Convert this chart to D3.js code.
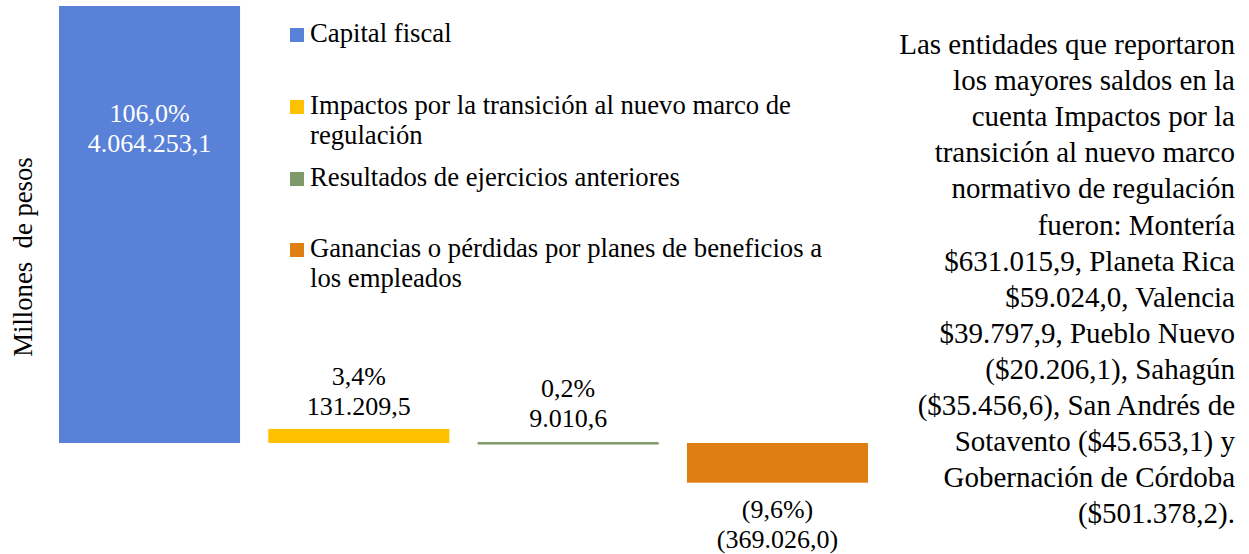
<!DOCTYPE html>
<html>
<head>
<meta charset="utf-8">
<title>Patrimonio</title>
<script src="https://d3js.org/d3.v7.min.js"></script>
<style>
  body { margin: 0; background: #fff; }
  text { font-family: "Liberation Serif", "Times New Roman", serif; }
</style>
</head>
<body>
<div id="chart"></div>
<script>
var categories = ["Capital fiscal", "Impactos por la transición al nuevo marco de regulación", "Resultados de ejercicios anteriores", "Ganancias o pérdidas por planes de beneficios a los empleados"];
var values = [4064253.1, 131209.5, 9010.6, -369026.0];
var percentLabels = ["106,0%", "3,4%", "0,2%", "(9,6%)"];
var valueLabels = ["4.064.253,1", "131.209,5", "9.010,6", "(369.026,0)"];
var colors = ["#5981d7", "#ffc000", "#7f9a6a", "#df7f13"];
var legendLines = [["Capital fiscal"], ["Impactos por la transición al nuevo marco de", "regulación"], ["Resultados de ejercicios anteriores"], ["Ganancias o pérdidas por planes de beneficios a", "los empleados"]];
var noteLines = ["Las entidades que reportaron", "los mayores saldos en la", "cuenta Impactos por la", "transición al nuevo marco", "normativo de regulación", "fueron: Montería", "$631.015,9, Planeta Rica", "$59.024,0, Valencia", "$39.797,9, Pueblo Nuevo", "($20.206,1), Sahagún", "($35.456,6), San Andrés de", "Sotavento ($45.653,1) y", "Gobernación de Córdoba", "($501.378,2)."];

var width = 1249, height = 554;
var svg = d3.select("#chart").append("svg")
  .attr("width", width)
  .attr("height", height);

var x = d3.scaleBand()
  .domain(categories)
  .range([59, 868])
  .paddingInner(0.135)
  .paddingOuter(0);

var y = d3.scaleLinear()
  .domain([0, 4064253.1])
  .range([443, 6]);

// bars
svg.append("g").selectAll("rect")
  .data(values)
  .enter().append("rect")
  .attr("x", function(d, i) { return x(categories[i]); })
  .attr("y", function(d) { return y(Math.max(0, d)); })
  .attr("width", x.bandwidth())
  .attr("height", function(d) { return Math.max(2.5, Math.abs(y(d) - y(0))); })
  .attr("fill", function(d, i) { return colors[i]; });

// data labels
var labels = svg.append("g").selectAll("text")
  .data(values)
  .enter().append("text")
  .attr("text-anchor", "middle")
  .attr("font-size", 26)
  .attr("fill", function(d, i) { return i === 0 ? "#fff" : "#000"; })
  .attr("x", function(d, i) { return x(categories[i]) + x.bandwidth() / 2; })
  .attr("y", function(d, i) {
    if (i === 0) return y(d) + 116;
    if (d < 0) return y(d) + 35;
    return y(d) - (i === 2 ? 45 : 43.5);
  });
labels.append("tspan")
  .text(function(d, i) { return percentLabels[i]; });
labels.append("tspan")
  .attr("x", function(d, i) { return x(categories[i]) + x.bandwidth() / 2; })
  .attr("dy", 30)
  .text(function(d, i) { return valueLabels[i]; });

// y axis title
svg.append("text")
  .attr("transform", "translate(32,257) rotate(-90)")
  .attr("text-anchor", "middle")
  .attr("font-size", 26.7)
  .attr("xml:space", "preserve")
  .text("Millones  de pesos");

// legend
var legendY = [42, 114, 186, 257];
var legend = svg.append("g").selectAll("g")
  .data(legendLines)
  .enter().append("g")
  .attr("transform", function(d, i) { return "translate(290," + legendY[i] + ")"; });
legend.append("rect")
  .attr("y", -14)
  .attr("width", 14)
  .attr("height", 14)
  .attr("fill", function(d, i) { return colors[i]; });
legend.each(function(lines) {
  var t = d3.select(this).append("text")
    .attr("font-size", 26.7);
  lines.forEach(function(line, j) {
    t.append("tspan")
      .attr("x", 20)
      .attr("dy", j === 0 ? 0 : 30)
      .text(line);
  });
});

// side note
svg.append("g").selectAll("text")
  .data(noteLines)
  .enter().append("text")
  .attr("text-anchor", "end")
  .attr("font-size", 29)
  .attr("x", 1235)
  .attr("y", function(d, i) { return 54 + i * 36.1; })
  .text(function(d) { return d; });
</script>
</body>
</html>
